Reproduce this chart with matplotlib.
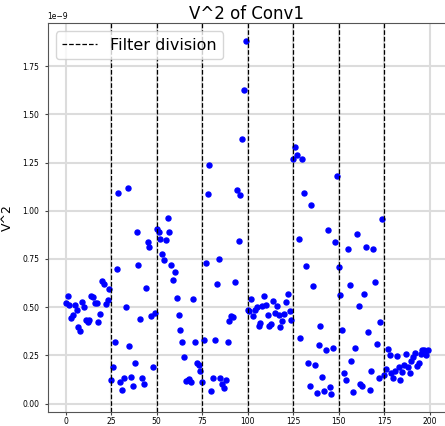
import numpy as np
import matplotlib
matplotlib.use("Agg")
import matplotlib.pyplot as plt

# V^2 per filter (in units of 1e-9), index 0..199
v2_a = [0.52, 0.56, 0.513, 0.445, 0.457, 0.513, 0.487, 0.397, 0.374, 0.527,
        0.50, 0.431, 0.421, 0.435, 0.558, 0.552, 0.523, 0.52, 0.423, 0.462,
        0.636, 0.622, 0.518, 0.535, 0.596]
v2_b = [0.12, 0.19, 0.32, 0.70, 1.09, 0.11, 0.07, 0.13, 0.50, 1.12,
        0.30, 0.14, 0.09, 0.21, 0.89, 0.72, 0.44, 0.13, 0.10, 0.60,
        0.84, 0.81, 0.455, 0.19, 0.47]
v2_c = [0.905, 0.89, 0.855, 0.775, 0.745, 0.85, 0.96, 0.89, 0.72, 0.64,
        0.68, 0.545, 0.46, 0.38, 0.32, 0.24, 0.115, 0.12, 0.125, 0.11,
        0.54, 0.32, 0.21, 0.20, 0.17]
v2_d = [0.11, 0.33, 0.73, 1.085, 1.235, 0.066, 0.13, 0.33, 0.62, 0.75,
        0.13, 0.10, 0.08, 0.12, 0.32, 0.43, 0.455, 0.45, 0.63, 1.11,
        0.845, 1.08, 1.37, 1.625, 1.88]
v2_e = [0.487, 0.48, 0.544, 0.454, 0.483, 0.50, 0.402, 0.419, 0.506, 0.556,
        0.509, 0.461, 0.402, 0.41, 0.532, 0.469, 0.506, 0.457, 0.397, 0.426,
        0.462, 0.527, 0.567, 0.478, 0.431]
v2_f = [1.27, 1.33, 1.29, 0.855, 0.34, 1.27, 1.09, 0.715, 0.21, 0.09,
        1.03, 0.61, 0.20, 0.057, 0.305, 0.40, 0.14, 0.064, 0.28, 0.90,
        0.085, 0.05, 0.29, 0.84, 1.18]
v2_g = [0.71, 0.565, 0.38, 0.16, 0.12, 0.80, 0.615, 0.22, 0.06, 0.29,
        0.88, 0.505, 0.10, 0.09, 0.57, 0.81, 0.37, 0.068, 0.17, 0.80,
        0.63, 0.31, 0.13, 0.425, 0.955]
v2_h = [0.15, 0.18, 0.285, 0.25, 0.16, 0.13, 0.17, 0.245, 0.19, 0.12,
        0.165, 0.20, 0.255, 0.19, 0.16, 0.22, 0.24, 0.26, 0.195, 0.21,
        0.255, 0.28, 0.275, 0.25, 0.275]

divisiones = [25, 50, 75, 100, 125, 150, 175]
xticks = [0, 25, 50, 75, 100, 125, 150, 175, 200]

valores = np.array(v2_a + v2_b + v2_c + v2_d + v2_e + v2_f + v2_g + v2_h) * 1e-9
indices = np.arange(len(valores))

fig = plt.figure(figsize=(4.45, 4.26), dpi=100)
ax = fig.add_axes([0.107, 0.034, 0.895, 0.911])

ax.plot(indices, valores, 'o', color='blue', markersize=3.6)
for i, d in enumerate(divisiones):
    ax.axvline(d, color='black', linestyle='--', linewidth=0.9,
               label="Filter division" if i == 0 else None)

ax.set_xticks(xticks)
ax.grid(True, color='#dcdcdc', linewidth=1.5)
ax.set_axisbelow(True)
ax.set_title("V^2 of Conv1", fontsize=12, pad=3)
ax.set_ylabel("V^2", fontsize=9, labelpad=6)
ax.tick_params(labelsize=5.5, length=2.5, color='#444444')
ax.tick_params(axis='x', pad=1.5)
ax.yaxis.get_offset_text().set_fontsize(5.5)
for s in ax.spines.values():
    s.set_color('#555555')
ax.legend(loc='upper left', fontsize=11.5, handlelength=2.2)

fig.savefig("out.png", dpi=100)
